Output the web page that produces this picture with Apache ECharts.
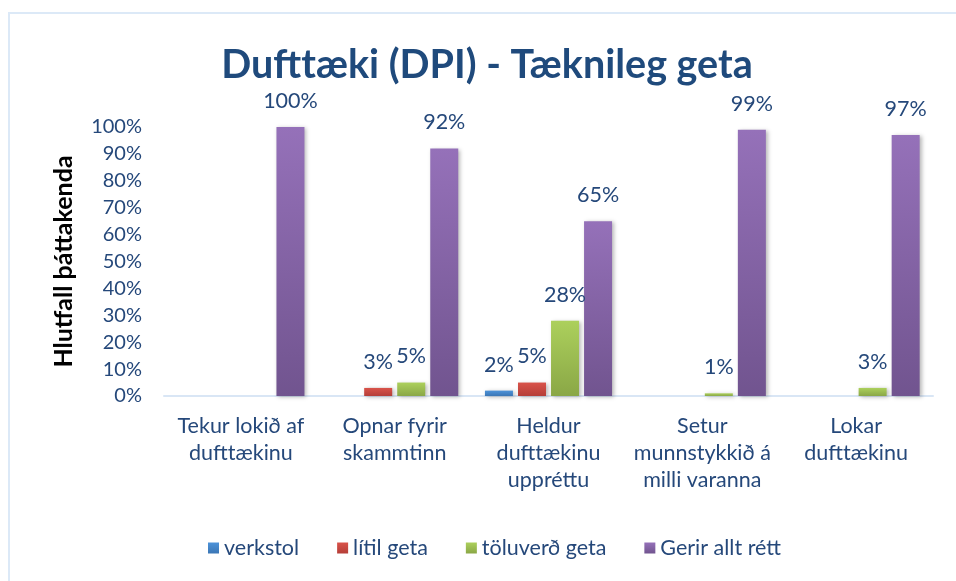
<!DOCTYPE html>
<html>
<head>
<meta charset="utf-8">
<script src="https://cdn.jsdelivr.net/npm/echarts@6/dist/echarts.min.js"></script>
<style>
  html, body { margin: 0; padding: 0; background: #fff; }
  #chart { width: 956px; height: 581px; }
</style>
</head>
<body>
<div id="chart"></div>
<script>
// Data
const categories = [
  'Tekur lokið af\ndufttækinu',
  'Opnar fyrir\nskammtinn',
  'Heldur\ndufttækinu\nuppréttu',
  'Setur\nmunnstykkið á\nmilli varanna',
  'Lokar\ndufttækinu',
]
const verkstol = [0, 0, 2, 0, 0]
const litilGeta = [0, 3, 5, 0, 0]
const toluverdGeta = [0, 5, 28, 1, 3]
const gerirAlltRett = [100, 92, 65, 99, 97]
const yTicks = [0, 10, 20, 30, 40, 50, 60, 70, 80, 90, 100]

const textBlue = '#25487a'
const font = 'Lato'

function grad(top, bottom) {
  return new echarts.graphic.LinearGradient(0, 0, 0, 1, [
    { offset: 0, color: top },
    { offset: 1, color: bottom },
  ])
}

function barSeries(name, data, top, bottom) {
  return {
    name,
    type: 'bar',
    data,
    barWidth: 28,
    barGap: '18%',
    itemStyle: {
      color: grad(top, bottom),
      shadowColor: 'rgba(0,0,0,0.28)',
      shadowBlur: 4,
      shadowOffsetX: 2,
      shadowOffsetY: 1,
    },
    label: {
      show: true,
      position: 'top',
      distance: 15,
      color: textBlue,
      fontFamily: font,
      fontSize: 21.5,
      formatter: (p) => (p.value ? p.value + '%' : ''),
    },
  }
}

const chart = echarts.init(document.getElementById('chart'))
chart.setOption({
  animation: false,
  textStyle: { fontFamily: font },
  title: {
    text: 'Dufttæki (DPI) - Tæknileg geta',
    left: 482,
    textAlign: 'center',
    top: 40,
    textStyle: {
      color: '#1f4a7c',
      fontFamily: font,
      fontWeight: 'bold',
      fontSize: 39.5,
    },
  },
  legend: {
    top: 532,
    left: 203,
    itemWidth: 11,
    itemHeight: 11,
    itemGap: 38,
    icon: 'rect',
    textStyle: { color: textBlue, fontFamily: font, fontSize: 21.5 },
    data: ['verkstol', 'lítil geta', 'töluverð geta', 'Gerir allt rétt'],
  },
  grid: {
    left: 164,
    right: 23,
    top: 127,
    bottom: 185,
  },
  xAxis: {
    type: 'category',
    data: categories,
    axisLine: { lineStyle: { color: '#d9e6f5', width: 2 } },
    axisTick: { show: false },
    axisLabel: {
      interval: 0,
      margin: 17,
      color: textBlue,
      fontFamily: font,
      fontSize: 21.5,
      lineHeight: 27,
    },
  },
  yAxis: {
    type: 'value',
    min: yTicks[0],
    max: yTicks[yTicks.length - 1],
    interval: 10,
    name: 'Hlutfall þáttakenda',
    nameLocation: 'middle',
    nameGap: 88,
    nameTextStyle: {
      color: '#000',
      fontFamily: font,
      fontWeight: 'bold',
      fontSize: 25,
    },
    axisLine: { show: false },
    axisTick: { show: false },
    splitLine: { show: false },
    axisLabel: {
      margin: 22,
      color: textBlue,
      fontFamily: font,
      fontSize: 20,
      padding: [8, 0, 0, 0],
      formatter: '{value}%',
    },
  },
  graphic: [
    {
      type: 'polyline',
      shape: { points: [[9, 581], [9, 13], [956, 13]] },
      style: { stroke: '#dce9f7', lineWidth: 2, fill: null },
      silent: true,
    },
  ],
  series: [
    barSeries('verkstol', verkstol, '#4d93d9', '#3b76b5'),
    barSeries('lítil geta', litilGeta, '#d9534a', '#b53e38'),
    barSeries('töluverð geta', toluverdGeta, '#acd05c', '#8aa746'),
    barSeries('Gerir allt rétt', gerirAlltRett, '#9571b9', '#71548f'),
  ],
})
</script>
</body>
</html>
